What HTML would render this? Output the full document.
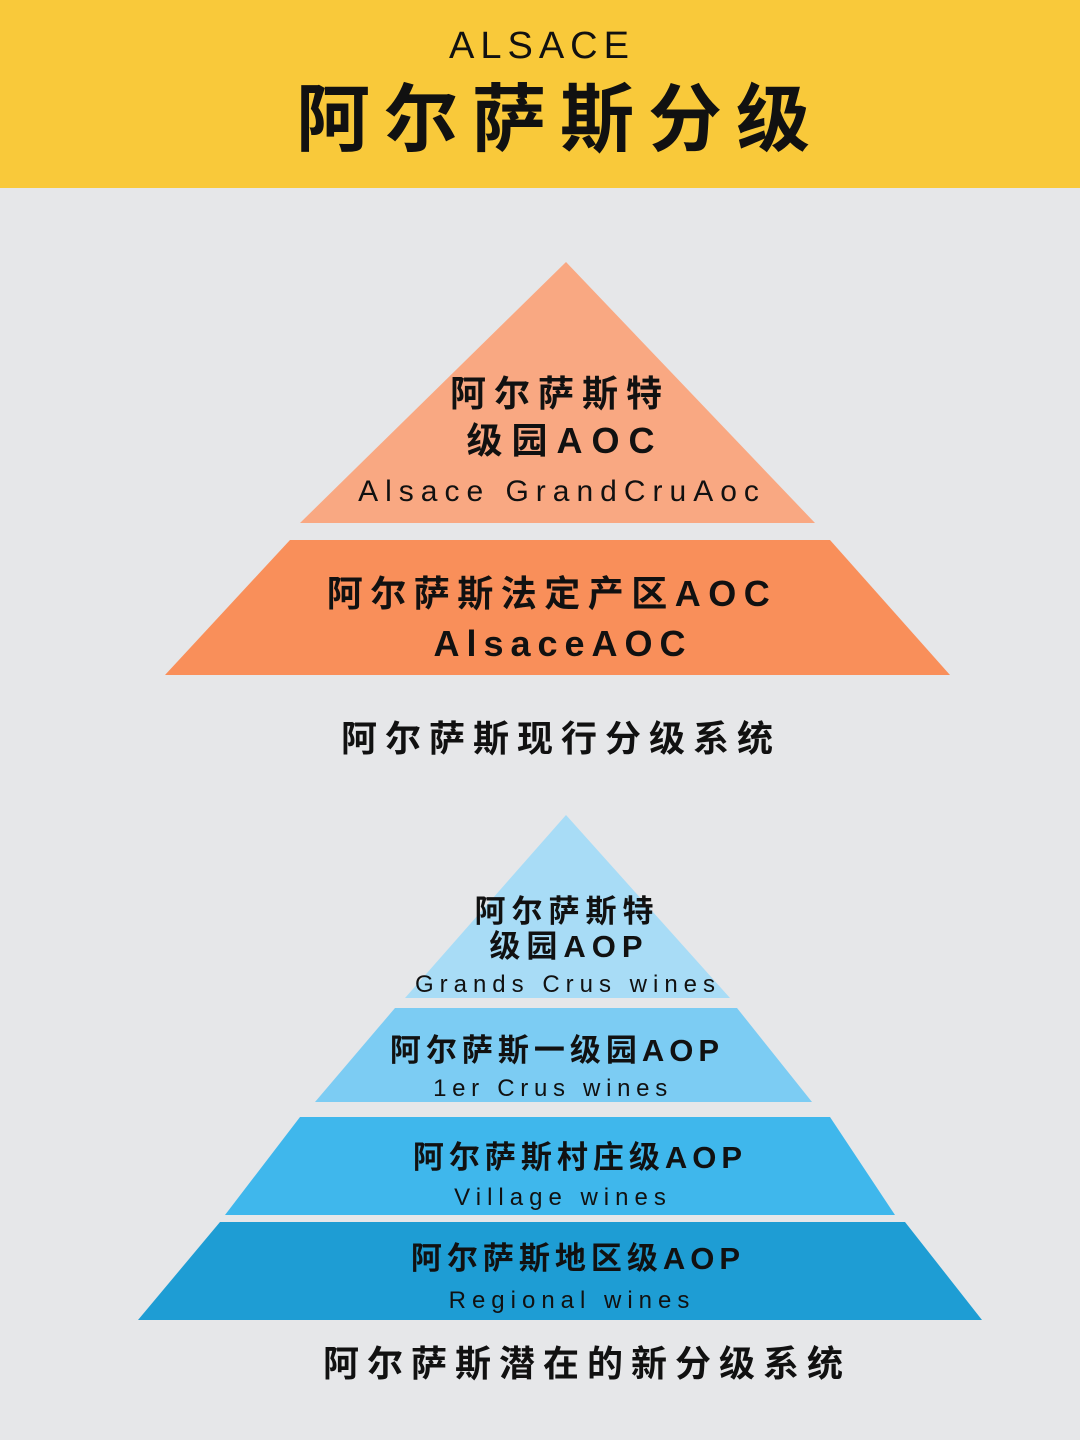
<!DOCTYPE html>
<html><head><meta charset="utf-8"><style>
html,body{margin:0;padding:0;background:#e6e7e9;}
svg{display:block;}
text{font-family:"Liberation Sans","Noto Sans CJK SC",sans-serif;fill:#111;text-anchor:middle;}
</style></head><body>
<svg width="1080" height="1440" viewBox="0 0 1080 1440" xmlns="http://www.w3.org/2000/svg">
<rect width="1080" height="1440" fill="#e6e7e9"/>
<rect width="1080" height="188" fill="#f9c93a"/>
<text x="542" y="58" font-size="38" letter-spacing="6">ALSACE</text>
<text x="560" y="145" font-size="74" font-weight="bold" letter-spacing="14">阿尔萨斯分级</text>

<polygon points="566,262 815,523 300,523" fill="#f9a882"/>
<polygon points="290,540 830,540 950,675 165,675" fill="#f98f5a"/>
<text x="560" y="406" font-size="36" font-weight="bold" letter-spacing="8">阿尔萨斯特</text>
<text x="565" y="453" font-size="36" font-weight="bold" letter-spacing="9">级园AOC</text>
<text x="562" y="501" font-size="30" letter-spacing="7">Alsace GrandCruAoc</text>
<text x="552" y="606" font-size="36" font-weight="bold" letter-spacing="7.5">阿尔萨斯法定产区AOC</text>
<text x="563" y="656" font-size="36" font-weight="bold" letter-spacing="7">AlsaceAOC</text>
<text x="561" y="751" font-size="36" font-weight="bold" letter-spacing="8">阿尔萨斯现行分级系统</text>

<polygon points="566,815 730,998 405,998" fill="#a8dcf6"/>
<polygon points="395,1008 737,1008 812,1102 315,1102" fill="#7cccf3"/>
<polygon points="300,1117 830,1117 895,1215 225,1215" fill="#3fb7ec"/>
<polygon points="220,1222 905,1222 982,1320 138,1320" fill="#1e9dd4"/>
<text x="567" y="922" font-size="31" font-weight="bold" letter-spacing="6">阿尔萨斯特</text>
<text x="569" y="957" font-size="31" font-weight="bold" letter-spacing="6">级园AOP</text>
<text x="568" y="992" font-size="24" letter-spacing="6">Grands Crus wines</text>
<text x="557" y="1061" font-size="31" font-weight="bold" letter-spacing="5">阿尔萨斯一级园AOP</text>
<text x="553" y="1096" font-size="24" letter-spacing="5.7">1er Crus wines</text>
<text x="580" y="1168" font-size="31" font-weight="bold" letter-spacing="5">阿尔萨斯村庄级AOP</text>
<text x="563" y="1205" font-size="24" letter-spacing="6">Village wines</text>
<text x="578" y="1269" font-size="31" font-weight="bold" letter-spacing="5">阿尔萨斯地区级AOP</text>
<text x="572" y="1308" font-size="24" letter-spacing="6">Regional wines</text>
<text x="587" y="1376" font-size="36" font-weight="bold" letter-spacing="8">阿尔萨斯潜在的新分级系统</text>
</svg>
</body></html>
